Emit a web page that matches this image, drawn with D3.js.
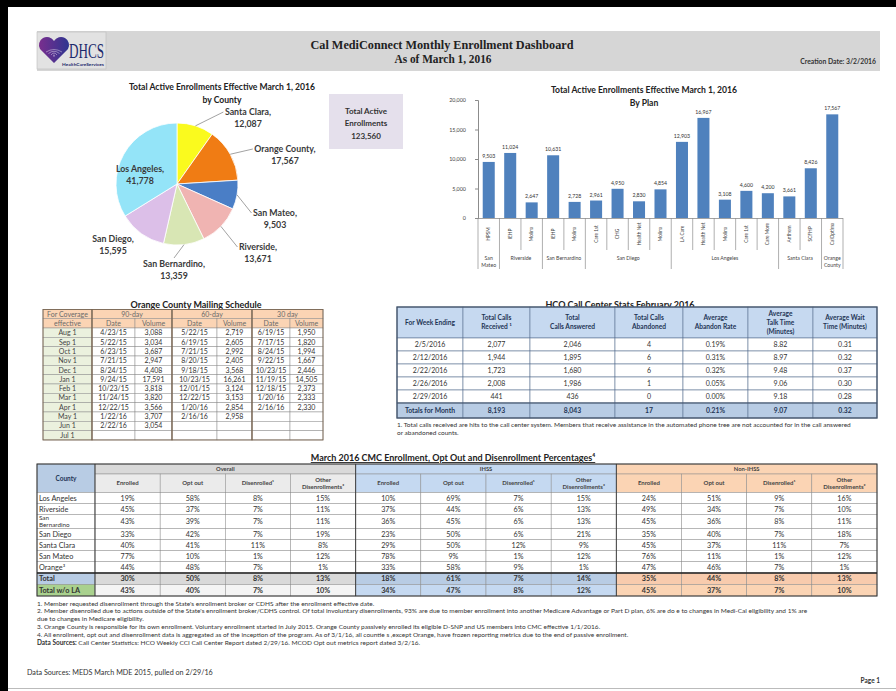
<!DOCTYPE html>
<html>
<head>
<meta charset="utf-8">
<script src="https://cdn.jsdelivr.net/npm/d3@7"></script>
<style>
  body { margin: 0; background: #fff; }
  svg { display: block; font-family: Lato, "Open Sans", sans-serif; }
</style>
</head>
<body>
<svg id="page" width="896" height="691"></svg>
<script>
// ---- data ----
const pieCounties = ["Santa Clara", "Orange County", "San Mateo", "Riverside", "San Bernardino", "San Diego", "Los Angeles"];
const pieValues = [12087, 17567, 9503, 13671, 13359, 15595, 41778];
const pieColors = ["#fafa1e", "#f07c14", "#4a7ec6", "#f0b4b2", "#d8e6b4", "#dcbfe8", "#94e4f8"];

const planNames = ["HPSM", "IEHP", "Molina", "IEHP", "Molina", "Care 1st", "CHG", "Health Net", "Molina",
  "LA Care", "Health Net", "Molina", "Care 1st", "Care More", "Anthem", "SCFHP", "CalOptima"];
const planValues = [9503, 11024, 2647, 10631, 2728, 2961, 4950, 2830, 4854, 12903, 16967, 3108, 4600, 4200, 3661, 8426, 17567];
const planCounties = ["San Mateo", "Riverside", "Riverside", "San Bernardino", "San Bernardino",
  "San Diego", "San Diego", "San Diego", "San Diego",
  "Los Angeles", "Los Angeles", "Los Angeles", "Los Angeles", "Los Angeles",
  "Santa Clara", "Santa Clara", "Orange County"];
const planTicks = [0, 5000, 10000, 15000, 20000];

const mailCoverage = ["Aug 1", "Sep 1", "Oct 1", "Nov 1", "Dec 1", "Jan 1", "Feb 1", "Mar 1", "Apr 1", "May 1", "Jun 1", "Jul 1"];
const mail90Date = ["4/23/15", "5/22/15", "6/23/15", "7/21/15", "8/24/15", "9/24/15", "10/23/15", "11/24/15", "12/22/15", "1/22/16", "2/22/16", ""];
const mail90Vol = ["3,088", "3,034", "3,687", "2,947", "4,408", "17,591", "3,818", "3,820", "3,566", "3,707", "3,054", ""];
const mail60Date = ["5/22/15", "6/19/15", "7/21/15", "8/20/15", "9/18/15", "10/23/15", "12/01/15", "12/22/15", "1/20/16", "2/16/16", "", ""];
const mail60Vol = ["2,719", "2,605", "2,992", "2,405", "3,568", "16,261", "3,124", "3,153", "2,854", "2,958", "", ""];
const mail30Date = ["6/19/15", "7/17/15", "8/24/15", "9/22/15", "10/23/15", "11/19/15", "12/18/15", "1/20/16", "2/16/16", "", "", ""];
const mail30Vol = ["1,950", "1,820", "1,994", "1,667", "2,446", "14,505", "2,373", "2,333", "2,330", "", "", ""];

const hcoHeaders = ["For Week Ending", "Total Calls\nReceived \u00b9", "Total\nCalls Answered", "Total Calls\nAbandoned",
  "Average\nAbandon Rate", "Average\nTalk Time\n(Minutes)", "Average Wait\nTime (Minutes)"];
const hcoWeeks = ["2/5/2016", "2/12/2016", "2/22/2016", "2/26/2016", "2/29/2016"];
const hcoReceived = [2077, 1944, 1723, 2008, 441];
const hcoAnswered = [2046, 1895, 1680, 1986, 436];
const hcoAbandoned = [4, 6, 6, 1, 0];
const hcoAbandonRate = [0.0019, 0.0031, 0.0032, 0.0005, 0];
const hcoTalk = [8.82, 8.97, 9.48, 9.06, 9.18];
const hcoWait = [0.31, 0.32, 0.37, 0.30, 0.28];
const hcoTotals = ["Totals for Month", 8193, 8043, 17, 0.0021, 9.07, 0.32];

const cmcGroups = ["Overall", "IHSS", "Non-IHSS"];
const cmcMeasures = ["Enrolled", "Opt out", "Disenrolled\u00b9", "Other\nDisenrollments\u00b2"];
const cmcCounties = ["Los Angeles", "Riverside", "San Bernardino", "San Diego", "Santa Clara", "San Mateo", "Orange\u00b3", "Total", "Total w/o LA"];
const cmcOverall = [[19, 58, 8, 15], [45, 37, 7, 11], [43, 39, 7, 11], [33, 42, 7, 19], [40, 41, 11, 8], [77, 10, 1, 12], [44, 48, 7, 1], [30, 50, 8, 13], [43, 40, 7, 10]];
const cmcIhss = [[10, 69, 7, 15], [37, 44, 6, 13], [36, 45, 6, 13], [23, 50, 6, 21], [29, 50, 12, 9], [78, 9, 1, 12], [33, 58, 9, 1], [18, 61, 7, 14], [34, 47, 8, 12]];
const cmcNonIhss = [[24, 51, 9, 16], [49, 34, 7, 10], [45, 36, 8, 11], [35, 40, 7, 18], [45, 37, 11, 7], [76, 11, 1, 12], [47, 46, 7, 1], [35, 44, 8, 13], [45, 37, 7, 10]];

const cmcNotes = [
  "1. Member requested disenrollment through the State's enrollment broker or CDHS after the enrollment effective date.",
  "2. Member disenrolled due to actions outside of the State's enrollment broker/CDHS control.  Of total involuntary disenrollments, 93% are due to member enrollment into another Medicare Advantage or Part D plan,  6% are do e to changes in Medi-Cal eligibility and 1% are",
  "due to changes in Medicare eligibility.",
  "3. Orange County is responsible for its own enrollment.  Voluntary enrollment started in July 2015.  Orange County passively enrolled its eligible D-SNP and US members into CMC effective 1/1/2016.",
  "4. All enrollment, opt out and disenrollment data is aggregated as of the inception of the program. As of 3/1/16, all countie s ,except Orange, have frozen reporting metrics due to the end of passive enrollment.",
  "Call Center Statistics:  HCO Weekly CCI Call Center Report dated 2/29/16.  MCOD Opt out metrics report dated 3/2/16."
];

const fmtInt = d3.format(",");
const fmtPct = d3.format(".2%");
const fmt2 = d3.format(".2f");

const svg = d3.select("#page");

// page frame
svg.append("rect").attr("width", 896).attr("height", 691).attr("fill", "#fff");
svg.append("rect").attr("width", 896).attr("height", 7).attr("fill", "#000");
svg.append("rect").attr("width", 8).attr("height", 691).attr("fill", "#000");
svg.append("line").attr("x1", 8).attr("x2", 896).attr("y1", 688.5).attr("y2", 688.5).attr("stroke", "#bbb");

// ---- header band ----
const hdr = svg.append("g");
hdr.append("rect").attr("x", 37).attr("y", 31).attr("width", 843).attr("height", 40).attr("fill", "#d6d6d6");
hdr.append("rect").attr("x", 37).attr("y", 32).attr("width", 69).attr("height", 37).attr("fill", "#e2e2e2")
  .attr("stroke", "#bdbdbd").attr("stroke-width", 0.6);

const grad = svg.append("defs").append("linearGradient").attr("id", "heart").attr("x1", 0).attr("x2", 1);
grad.append("stop").attr("offset", 0).attr("stop-color", "#7a2e8e");
grad.append("stop").attr("offset", 1).attr("stop-color", "#2e3590");
hdr.append("path")
  .attr("d", "M54,63 L40,49 A7,7 0 0 1 54,41 A7,7 0 0 1 68,49 Z")
  .attr("fill", "url(#heart)");
[0, 1, 2, 3].forEach(i => {
  hdr.append("path")
    .attr("d", `M${46 + i * 2.5},${52 + i * 1.5} Q54,${47 + i * 2} ${62 - i * 2.5},${52 + i * 1.5}`)
    .attr("fill", "none").attr("stroke", "#fff").attr("stroke-width", 0.5).attr("opacity", 0.8);
});
hdr.append("text").attr("x", 69).attr("y", 58)
  .attr("font-family", "'Liberation Serif', serif").attr("font-size", 21).attr("fill", "#1d2a6c")
  .attr("textLength", 35).attr("lengthAdjust", "spacingAndGlyphs").text("DHCS");
hdr.append("text").attr("x", 62).attr("y", 66)
  .attr("font-size", 4.2).attr("font-weight", "bold").attr("fill", "#1d2a6c")
  .attr("textLength", 42).attr("lengthAdjust", "spacingAndGlyphs").text("HealthCareServices");

hdr.append("text").attr("x", 442).attr("y", 49).attr("text-anchor", "middle")
  .attr("font-family", "'Liberation Serif', serif").attr("font-weight", "bold").attr("font-size", 12.5)
  .attr("fill", "#222").attr("textLength", 263).attr("lengthAdjust", "spacingAndGlyphs")
  .text("Cal MediConnect Monthly Enrollment Dashboard");
hdr.append("text").attr("x", 443).attr("y", 63).attr("text-anchor", "middle")
  .attr("font-family", "'Liberation Serif', serif").attr("font-weight", "bold").attr("font-size", 12.5)
  .attr("fill", "#222").attr("textLength", 97).attr("lengthAdjust", "spacingAndGlyphs")
  .text("As of March 1, 2016");
hdr.append("text").attr("x", 876).attr("y", 64).attr("text-anchor", "end")
  .attr("font-size", 6.8).attr("font-weight", "bold").attr("fill", "#333")
  .text("Creation Date: 3/2/2016");

// ---- pie by county ----
svg.append("text").attr("x", 222).attr("y", 90).attr("text-anchor", "middle")
  .attr("font-size", 8.6).attr("font-weight", "bold").attr("fill", "#222")
  .text("Total Active Enrollments Effective March 1, 2016");
svg.append("text").attr("x", 222).attr("y", 103).attr("text-anchor", "middle")
  .attr("font-size", 8.6).attr("font-weight", "bold").attr("fill", "#222")
  .text("by County");

const pieCx = 177, pieCy = 184, pieR = 61;
// label centres relative to the pie centre (layout only)
const pieLabelAt = [[71, -66], [108, -29], [98, 35], [81, 69], [-3, 86], [-64, 61], [-37, -9]];

const pieG = svg.append("g").attr("transform", `translate(${pieCx},${pieCy})`);
const pie = d3.pie().sort(null).value(d => d.value);
const slices = pie(pieCounties.map((c, i) => ({ county: c, value: pieValues[i] })));
const arc = d3.arc().innerRadius(0).outerRadius(pieR);

pieG.selectAll("path.slice")
  .data(slices)
  .join("path")
  .attr("class", "slice")
  .attr("d", arc)
  .attr("fill", (d, i) => pieColors[i])
  .attr("stroke", "#fff")
  .attr("stroke-width", 0.8);

slices.forEach((d, i) => {
  const [lx, ly] = pieLabelAt[i];
  const t = pieG.append("text").attr("text-anchor", "middle")
    .attr("font-size", 8.8).attr("font-weight", "bold").attr("fill", "#3a3a3a");
  const l1 = t.append("tspan").attr("x", lx).attr("y", ly - 3).text(d.data.county + ",");
  t.append("tspan").attr("x", lx).attr("y", ly + 9).text(fmtInt(d.data.value));
  const w = l1.node().getComputedTextLength();

  const mid = (d.startAngle + d.endAngle) / 2;
  const ex = Math.sin(mid) * pieR, ey = -Math.cos(mid) * pieR;
  if (Math.hypot(lx, ly) < pieR) return;
  let tx, ty;
  if (Math.abs(lx) < 20) { tx = lx; ty = ly - 12; }
  else if (lx > 0) { tx = lx - w / 2 - 1.5; ty = ly - 6; }
  else { tx = lx + w / 2 + 1.5; ty = ly - 6; }
  if (Math.hypot(tx - ex, ty - ey) < 9) return;
  pieG.insert("line", "text").attr("x1", ex).attr("y1", ey).attr("x2", tx).attr("y2", ty)
    .attr("stroke", "#8a8a8a").attr("stroke-width", 0.8);
});

// total box
const tot = svg.append("g");
tot.append("rect").attr("x", 329).attr("y", 94).attr("width", 74).attr("height", 55).attr("fill", "#e5e0ec");
["Total Active", "Enrollments", fmtInt(d3.sum(pieValues))].forEach((s, i) => {
  tot.append("text").attr("x", 366).attr("y", [114, 125.5, 139][i]).attr("text-anchor", "middle")
    .attr("font-size", 8).attr("font-weight", "bold").attr("fill", "#333").text(s);
});

// ---- bar chart by plan ----
svg.append("text").attr("x", 644).attr("y", 93).attr("text-anchor", "middle")
  .attr("font-size", 8.6).attr("font-weight", "bold").attr("fill", "#222")
  .text("Total Active Enrollments Effective March 1, 2016");
svg.append("text").attr("x", 644).attr("y", 106).attr("text-anchor", "middle")
  .attr("font-size", 8.6).attr("font-weight", "bold").attr("fill", "#222")
  .text("By Plan");

const bx = d3.scaleBand().domain(d3.range(planValues.length)).range([478, 843]).paddingInner(0.44).paddingOuter(0.22);
const by = d3.scaleLinear().domain([0, 20000]).range([218, 100]);
const barG = svg.append("g");

barG.selectAll("rect.bar")
  .data(planValues)
  .join("rect")
  .attr("class", "bar")
  .attr("x", (d, i) => bx(i))
  .attr("y", d => by(d))
  .attr("width", bx.bandwidth())
  .attr("height", d => by(0) - by(d))
  .attr("fill", "#4f81bd");

barG.selectAll("text.val")
  .data(planValues)
  .join("text")
  .attr("class", "val")
  .attr("x", (d, i) => bx(i) + bx.bandwidth() / 2)
  .attr("y", d => by(d) - 4)
  .attr("text-anchor", "middle")
  .attr("font-size", 5.2)
  .attr("fill", "#333")
  .text(d => fmtInt(d));

const yAxis = d3.axisLeft(by).tickValues(planTicks).tickFormat(fmtInt).tickSize(3).tickPadding(9);
barG.append("g").attr("transform", "translate(478,0)").call(yAxis)
  .call(g => g.select(".domain").attr("stroke", "#8c8c8c"))
  .call(g => g.selectAll(".tick line").attr("stroke", "#8c8c8c"))
  .call(g => g.selectAll("text").attr("font-family", "Lato, sans-serif").attr("font-size", 5.4).attr("fill", "#444"));

barG.append("line").attr("x1", 478).attr("x2", 843).attr("y1", by(0) + 0.5).attr("y2", by(0) + 0.5)
  .attr("stroke", "#8c8c8c").attr("stroke-width", 0.8);

// category separators and labels
const step = bx.step();
const sepOffset = bx.paddingInner() * step / 2;
d3.range(planValues.length + 1).forEach(k => {
  const x = k === 0 ? 478 : bx(k - 1) + bx.bandwidth() + sepOffset;
  const groupEdge = k === 0 || k === planValues.length || planCounties[k] !== planCounties[k - 1];
  barG.append("line").attr("x1", x).attr("x2", x).attr("y1", 218).attr("y2", groupEdge ? 269 : 250)
    .attr("stroke", "#8c8c8c").attr("stroke-width", 0.7);
});
barG.selectAll("text.plan")
  .data(planNames)
  .join("text")
  .attr("class", "plan")
  .attr("transform", (d, i) => `translate(${bx(i) + bx.bandwidth() / 2 + 1.6},234) rotate(-90)`)
  .attr("text-anchor", "middle")
  .attr("font-size", 4.8)
  .attr("fill", "#444")
  .text(d => d);

const groups = d3.groups(planCounties.map((c, i) => ({ c, i })), d => d.c);
groups.forEach(([county, items]) => {
  const x0 = bx(items[0].i) - sepOffset;
  const x1 = bx(items[items.length - 1].i) + bx.bandwidth() + sepOffset;
  const words = items.length === 1 ? county.split(" ") : [county];
  words.forEach((w, j) => {
    barG.append("text").attr("x", (x0 + x1) / 2).attr("y", 259.5 + j * 7.5).attr("text-anchor", "middle")
      .attr("font-size", 5.2).attr("fill", "#444").text(w);
  });
});

// ---- generic table cells ----
function drawCells(g, cells) {
  const c = g.selectAll(null).data(cells).join("g");
  c.append("rect")
    .attr("x", d => d.x0).attr("y", d => d.y0)
    .attr("width", d => d.x1 - d.x0).attr("height", d => d.y1 - d.y0)
    .attr("fill", d => d.fill || "#fff")
    .attr("stroke", d => d.stroke || "#8c8c8c")
    .attr("stroke-width", d => d.sw || 0.5);
  c.each(function (d) {
    if (d.text === undefined || d.text === "") return;
    const lines = String(d.text).split("\n");
    const fs = d.size || 6;
    const lh = d.lh || fs * 1.2;
    const cx = d.anchor === "start" ? d.x0 + 2 : (d.x0 + d.x1) / 2;
    const cy = (d.y0 + d.y1) / 2;
    const t = d3.select(this).append("text")
      .attr("text-anchor", d.anchor || "middle")
      .attr("font-size", fs)
      .attr("font-weight", d.bold ? "bold" : "normal")
      .attr("fill", d.color || "#333");
    lines.forEach((ln, i) => {
      t.append("tspan").attr("x", cx).attr("y", cy + (i - (lines.length - 1) / 2) * lh)
        .attr("dy", "0.36em").text(ln);
    });
  });
}

function outline(g, x0, y0, x1, y1, color, sw) {
  g.append("rect").attr("x", x0).attr("y", y0).attr("width", x1 - x0).attr("height", y1 - y0)
    .attr("fill", "none").attr("stroke", color).attr("stroke-width", sw);
}

// ---- Orange County mailing schedule ----
svg.append("text").attr("x", 196).attr("y", 308).attr("text-anchor", "middle")
  .attr("font-size", 9).attr("font-weight", "bold").attr("fill", "#222")
  .text("Orange County Mailing Schedule");

const mX = [43, 92, 135, 172, 217, 252, 290, 323];
const mY = [309.5, 318.5, 328];
const mRow = 9.33;
const mailG = svg.append("g");
const mailCells = [];
const peach = "#fbd4b4", headTxt = "#6a6a6a";
mailCells.push({ x0: mX[0], x1: mX[1], y0: mY[0], y1: mY[1], fill: peach, text: "For Coverage", color: headTxt, size: 7 });
["90-day", "60-day", "30 day"].forEach((s, k) => {
  mailCells.push({ x0: mX[1 + 2 * k], x1: mX[3 + 2 * k], y0: mY[0], y1: mY[1], fill: peach, text: s, color: headTxt, size: 7 });
});
mailCells.push({ x0: mX[0], x1: mX[1], y0: mY[1], y1: mY[2], fill: peach, text: "effective", color: headTxt, size: 7 });
d3.range(6).forEach(k => {
  mailCells.push({ x0: mX[1 + k], x1: mX[2 + k], y0: mY[1], y1: mY[2], fill: peach, text: k % 2 ? "Volume" : "Date", color: headTxt, size: 7 });
});
const mailCols = [mail90Date, mail90Vol, mail60Date, mail60Vol, mail30Date, mail30Vol];
mailCoverage.forEach((cov, r) => {
  const y0 = mY[2] + r * mRow, y1 = y0 + mRow;
  mailCells.push({ x0: mX[0], x1: mX[1], y0, y1, fill: "#ebf1de", text: cov, size: 7, color: "#444" });
  mailCols.forEach((col, k) => {
    mailCells.push({ x0: mX[1 + k], x1: mX[2 + k], y0, y1, text: col[r], size: 7, color: "#333" });
  });
});
drawCells(mailG, mailCells);
const mBottom = mY[2] + mailCoverage.length * mRow;
[[0, 1], [1, 3], [3, 5], [5, 7]].forEach(([a, b]) => outline(mailG, mX[a], mY[0], mX[b], mBottom, "#7a6652", 0.9));

// ---- HCO call center stats ----
svg.append("text").attr("x", 620).attr("y", 308).attr("text-anchor", "middle")
  .attr("font-size", 9).attr("font-weight", "bold").attr("fill", "#222")
  .attr("text-decoration", "underline")
  .text("HCO Call Center Stats February 2016");

const hX = [397, 463, 530, 615, 683, 748, 813, 877];
const hY0 = 307, hHead = 31, hRow = 13, hTot = 15;
const hcoG = svg.append("g");
const hcoCells = [];
hcoHeaders.forEach((s, k) => {
  hcoCells.push({ x0: hX[k], x1: hX[k + 1], y0: hY0, y1: hY0 + hHead, fill: "#c6d9f0", text: s,
    bold: true, size: 6.6, lh: 8.8, color: "#1f3556", stroke: "#5f7594", sw: 0.6 });
});
hcoWeeks.forEach((wk, r) => {
  const y0 = hY0 + hHead + r * hRow, y1 = y0 + hRow;
  const vals = [wk, fmtInt(hcoReceived[r]), fmtInt(hcoAnswered[r]), fmtInt(hcoAbandoned[r]),
    fmtPct(hcoAbandonRate[r]), fmt2(hcoTalk[r]), fmt2(hcoWait[r])];
  vals.forEach((v, k) => {
    hcoCells.push({ x0: hX[k], x1: hX[k + 1], y0, y1, text: v, size: 7, color: "#333", stroke: "#5f7594", sw: 0.6 });
  });
});
const hTotY = hY0 + hHead + hcoWeeks.length * hRow;
const totVals = [hcoTotals[0], fmtInt(hcoTotals[1]), fmtInt(hcoTotals[2]), fmtInt(hcoTotals[3]),
  fmtPct(hcoTotals[4]), fmt2(hcoTotals[5]), fmt2(hcoTotals[6])];
totVals.forEach((v, k) => {
  hcoCells.push({ x0: hX[k], x1: hX[k + 1], y0: hTotY, y1: hTotY + hTot, fill: "#b8cce4", text: v,
    bold: true, size: 6.8, color: "#1f3556", stroke: "#5f7594", sw: 0.6 });
});
drawCells(hcoG, hcoCells);
outline(hcoG, hX[0], hY0, hX[7], hTotY + hTot, "#44546a", 1.3);
hcoG.append("line").attr("x1", hX[0]).attr("x2", hX[7]).attr("y1", hTotY).attr("y2", hTotY)
  .attr("stroke", "#44546a").attr("stroke-width", 1.1);

["1. Total calls  received are hits to the call center system.  Members that receive assistance in the automated phone tree are  not accounted for in the call answered",
  "or abandoned counts."].forEach((s, i) => {
  svg.append("text").attr("x", 397).attr("y", 427 + i * 8).attr("font-size", 6.5).attr("fill", "#333").text(s);
});

// ---- March 2016 CMC enrollment table ----
svg.append("text").attr("x", 453).attr("y", 461).attr("text-anchor", "middle")
  .attr("font-size", 9).attr("font-weight", "bold").attr("fill", "#222")
  .attr("text-decoration", "underline")
  .text("March 2016 CMC Enrollment, Opt Out and Disenrollment Percentages\u2074");

const cX0 = 37, cX1 = 95, cRight = 877;
const cW = (cRight - cX1) / 12;
const cY = [464, 474, 492.5, 503.5, 514.5, 528.5, 539.5, 550.5, 561.5, 573, 584.5, 596];
const cmcG = svg.append("g");
const cmcCells = [];
const groupHeadFill = ["#d9d9d9", "#c5d9f1", "#fbd4b4"];
const subHeadFill = ["#ebebeb", "#c5d9f1", "#fbd4b4"];
const totalFill = ["#d9d9d9", "#b8cce4", "#f8cbad"];
const totalLaFill = ["#f4f4f4", "#c5d9f1", "#fbd4b4"];
const cmcData = [cmcOverall, cmcIhss, cmcNonIhss];

cmcCells.push({ x0: cX0, x1: cX1, y0: cY[0], y1: cY[2], fill: "#b8cce4", text: "County", bold: true, size: 6.5, color: "#1f3556" });
cmcGroups.forEach((gname, gi) => {
  cmcCells.push({ x0: cX1 + gi * 4 * cW, x1: cX1 + (gi + 1) * 4 * cW, y0: cY[0], y1: cY[1],
    fill: groupHeadFill[gi], text: gname, bold: true, size: 5.8, color: "#444" });
  cmcMeasures.forEach((m, mi) => {
    const x0 = cX1 + (gi * 4 + mi) * cW;
    cmcCells.push({ x0, x1: x0 + cW, y0: cY[1], y1: cY[2], fill: subHeadFill[gi], text: m,
      bold: true, size: 6, lh: 7.4, color: "#444" });
  });
});
cmcCounties.forEach((county, r) => {
  const y0 = cY[r + 2], y1 = cY[r + 3];
  const isTotal = county === "Total", isTotalLa = county === "Total w/o LA";
  const wrapped = county.length > 12;
  const name = wrapped ? county.replace(" ", "\n") : county;
  cmcCells.push({ x0: cX0, x1: cX1, y0, y1, anchor: "start", text: name,
    size: wrapped ? 6.3 : 7.3, lh: 6.7,
    bold: isTotal || isTotalLa, color: "#333",
    fill: isTotal ? "#b8cce4" : isTotalLa ? "#a9d18e" : "#fff" });
  cmcData.forEach((set, gi) => {
    set[r].forEach((v, mi) => {
      const x0 = cX1 + (gi * 4 + mi) * cW;
      cmcCells.push({ x0, x1: x0 + cW, y0, y1, text: v + "%", size: 7.2, bold: isTotal || isTotalLa, color: "#333",
        fill: isTotal ? totalFill[gi] : isTotalLa ? totalLaFill[gi] : "#fff" });
    });
  });
});
drawCells(cmcG, cmcCells);
outline(cmcG, cX0, cY[0], cRight, cY[cY.length - 1], "#333", 1);
[0, 1, 2].forEach(gi => {
  const x = cX1 + gi * 4 * cW;
  cmcG.append("line").attr("x1", x).attr("x2", x).attr("y1", cY[0]).attr("y2", cY[cY.length - 1])
    .attr("stroke", "#333").attr("stroke-width", 0.9);
});
cmcG.append("line").attr("x1", cX0).attr("x2", cRight).attr("y1", cY[9]).attr("y2", cY[9])
  .attr("stroke", "#222").attr("stroke-width", 1.3);

// footnotes
cmcNotes.forEach((s, i) => {
  const t = svg.append("text").attr("x", 37).attr("y", 605.5 + i * 7.8).attr("font-size", 6.5).attr("fill", "#333");
  if (i === cmcNotes.length - 1) {
    t.append("tspan").attr("font-weight", "bold").text("Data Sources:  ");
  }
  t.append("tspan").text(s);
});

svg.append("text").attr("x", 27).attr("y", 675).attr("font-size", 7.2).attr("fill", "#333")
  .text("Data Sources:  MEDS March MDE 2015, pulled on 2/29/16");
svg.append("text").attr("x", 880).attr("y", 683).attr("text-anchor", "end")
  .attr("font-size", 6.5).attr("font-weight", "bold").attr("fill", "#333").text("Page 1");
</script>
</body>
</html>
